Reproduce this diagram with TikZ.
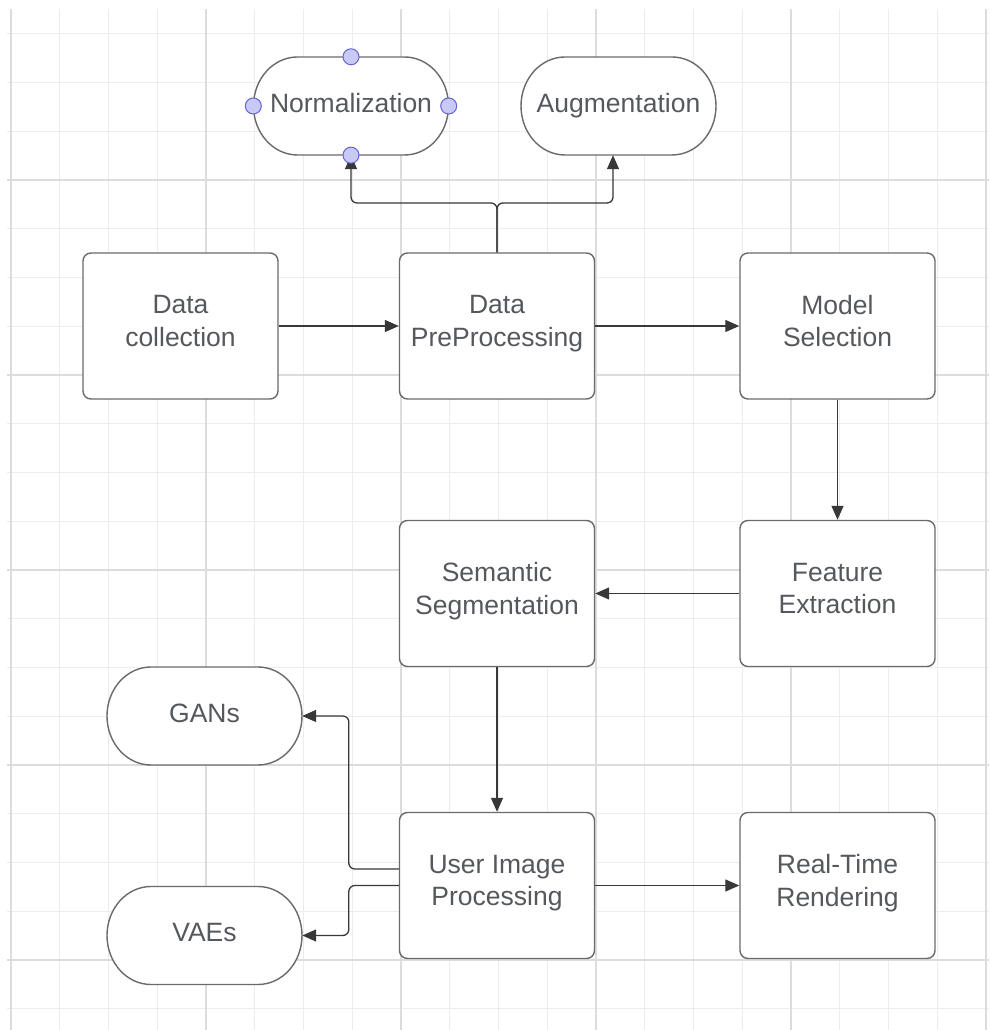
\documentclass[tikz,border=0pt]{standalone}
\usepackage{fontspec}
\setmainfont{Liberation Sans}
\usetikzlibrary{arrows.meta}
\definecolor{gridminor}{HTML}{EDEDED}
\definecolor{gridmajor}{HTML}{DCDCDC}
\definecolor{boxline}{HTML}{6A6A6A}
\definecolor{connline}{HTML}{383838}
\definecolor{txt}{HTML}{55585C}
\definecolor{handlefill}{HTML}{C9C9F7}
\definecolor{handleline}{HTML}{6464D2}
\newcommand\stadium[4]{%
  \filldraw[termline] ({#2-53.5},{#3+49}) -- ({#2+53.5},{#3+49})
    arc[start angle=90,end angle=-90,x radius=44,y radius=49]
    -- ({#2-53.5},{#3-49})
    arc[start angle=270,end angle=90,x radius=44,y radius=49] -- cycle;
  \node[term] (#1) at (#2,#3) {#4};
}
\begin{document}
\begin{tikzpicture}[x=1pt,y=1pt,
  labelfont/.style={text=txt, font=\fontsize{26.5}{32.5}\selectfont, align=center,
    execute at begin node=\strut, execute at end node=\strut},
  box/.style={labelfont, draw=boxline, line width=1.4pt, rounded corners=8pt,
    minimum width=195pt, minimum height=146pt, fill=white, inner sep=0pt},
  term/.style={labelfont, minimum width=195pt, minimum height=98pt, inner sep=0pt},
  termline/.style={draw=boxline, line width=1.4pt, fill=white},
  conn/.style={draw=connline, line width=1.3pt, rounded corners=6pt,
    -{Triangle[length=14pt,width=12pt]}},
  handle/.style={circle, draw=handleline, fill=handlefill, line width=1pt,
    minimum size=16pt, inner sep=0pt},
  gminor/.style={draw=gridminor, line width=1pt},
  gmajor/.style={draw=gridmajor, line width=1.4pt}
]
\useasboundingbox (0,0) rectangle (989,1030);
\fill[white] (0,0) rectangle (989,1030);
% grid
\foreach \k in {0,...,20} {
  \pgfmathsetmacro\xx{11+48.75*\k}
  \draw[gminor] (\xx,0) -- (\xx,1021);
}
\foreach \k in {-3,...,17} {
  \pgfmathsetmacro\yy{850-48.75*\k}
  \draw[gminor] (7,\yy) -- (989,\yy);
}
\foreach \k in {0,4,...,20} {
  \pgfmathsetmacro\xx{11+48.75*\k}
  \draw[gmajor] (\xx,0) -- (\xx,1021);
}
\foreach \k in {0,4,...,16} {
  \pgfmathsetmacro\yy{850-48.75*\k}
  \draw[gmajor] (7,\yy) -- (989,\yy);
}
% terminators
\stadium{norm}{351}{924}{Normalization}
\stadium{aug}{618.5}{924}{Augmentation}
\stadium{gans}{204.5}{314}{GANs}
\stadium{vaes}{204.5}{94.5}{VAEs}
% boxes
\node[box] (dc)  at (180.5,704) {Data\\collection};
\node[box] (dp)  at (497,704)   {Data\\PreProcessing};
\node[box] (ms)  at (837.5,704) {Model\\Selection};
\node[box] (ss)  at (497,436.5) {Semantic\\Segmentation};
\node[box] (fe)  at (837.5,436.5) {Feature\\Extraction};
\node[box] (uip) at (497,144.5) {User Image\\Processing};
\node[box] (rt)  at (837.5,144.5) {Real-Time\\Rendering};
% connectors
\coordinate (br) at (497,827);
\draw[conn] (dc.east) -- (dp.west);
\draw[conn] (dp.east) -- (ms.west);
\draw[conn] (dp.north) -- (br) -| (norm.south);
\draw[conn] (dp.north) -- (br) -| ([xshift=-5.5pt]aug.south);
\draw[conn] (ms.south) -- (fe.north);
\draw[conn] (fe.west) -- (ss.east);
\draw[conn] (ss.south) -- (uip.north);
\draw[conn] ([yshift=16.5pt]uip.west) -- ++(-50,0) |- (gans.east);
\draw[conn] (uip.west) -- ++(-50,0) |- (vaes.east);
\draw[conn] (uip.east) -- (rt.west);
% selection handles
\node[handle] (hn) at (norm.north) {};
\node[handle] (hs) at (norm.south) {};
\node[handle] (hw) at (norm.west) {};
\node[handle] (he) at (norm.east) {};
\end{tikzpicture}
\end{document}
